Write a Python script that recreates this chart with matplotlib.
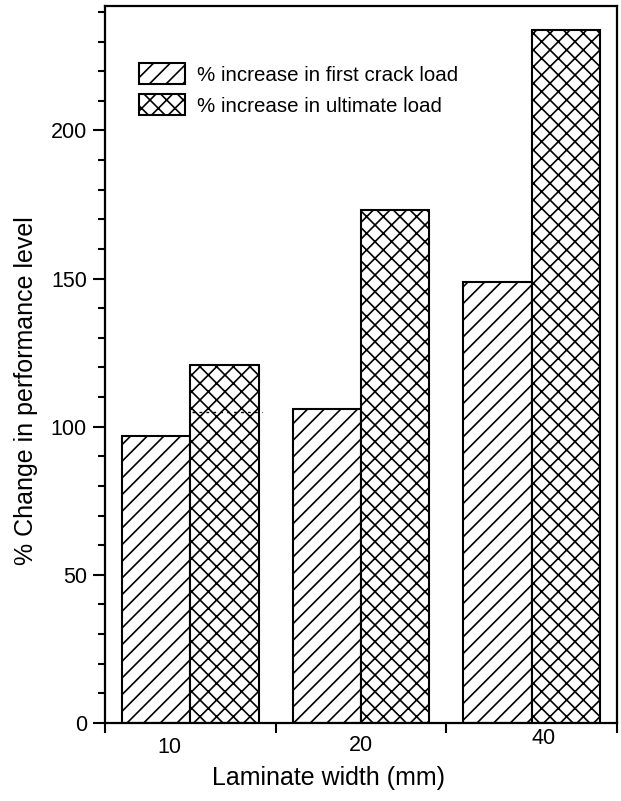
import matplotlib
matplotlib.use("Agg")
import matplotlib.pyplot as plt
import numpy as np

plt.rcParams['font.family'] = ['Liberation Sans', 'DejaVu Sans']
plt.rcParams['hatch.linewidth'] = 1.2

widths = ['10', '20', '40']
first_crack = [97, 106, 149]
ultimate = [121, 173, 234]
labels = ['% increase in first crack load', '% increase in ultimate load']
dotted_level = 105

x = np.arange(len(widths))
bw = 0.4

fig = plt.figure(figsize=(6.21, 8.01), dpi=100)
ax = fig.add_axes([105 / 621, 78 / 801, 512 / 621, 717 / 801])

ax.bar(x - bw / 2, first_crack, bw, color='white', edgecolor='black',
       linewidth=1.5, hatch='//', label=labels[0])
ax.bar(x + bw / 2, ultimate, bw, color='white', edgecolor='black',
       linewidth=1.5, hatch='xx', label=labels[1])

# faint dotted line seen inside the first ultimate-load bar
ax.plot([0.01, 0.42], [dotted_level, dotted_level], color='black',
        linestyle=(0, (2, 3)), linewidth=1)

ax.set_xlim(-0.5, 2.5)
ax.set_ylim(0, 242)

# x axis: ticks at group boundaries, labels placed a bit unevenly as in the scan
ax.set_xticks([-0.5, 0.5, 1.5, 2.5])
ax.set_xticklabels([])
ax.tick_params(axis='x', which='major', direction='out', length=7, width=1.5)
lab_dx = [-0.12, 0.0, 0.07]
lab_y = [-0.034, -0.031, -0.021]
for xi, w, dx, yy in zip(x, widths, lab_dx, lab_y):
    ax.text(xi + dx, yy, w, transform=ax.get_xaxis_transform(),
            ha='center', va='center', fontsize=15.5)

ax.set_yticks(np.arange(0, 201, 50))
ax.set_yticks(np.arange(0, 241, 10), minor=True)
ax.tick_params(axis='y', which='major', direction='out', length=9, width=1.5,
               labelsize=15.5, pad=4)
ax.tick_params(axis='y', which='minor', direction='out', length=5, width=1.5)

for s in ax.spines.values():
    s.set_linewidth(1.6)

ax.set_ylabel('% Change in performance level', fontsize=18)
ax.yaxis.set_label_coords(-0.131, 0.464)
ax.set_xlabel('Laminate width (mm)', fontsize=18)
ax.xaxis.set_label_coords(0.4375, -0.060)

ax.legend(loc='upper left', bbox_to_anchor=(0.066, 0.920), frameon=False,
          fontsize=14.8, handlelength=2.25, handleheight=1.2,
          labelspacing=0.45, handletextpad=0.6, borderpad=0, borderaxespad=0)

plt.savefig('out.png', dpi=100)
